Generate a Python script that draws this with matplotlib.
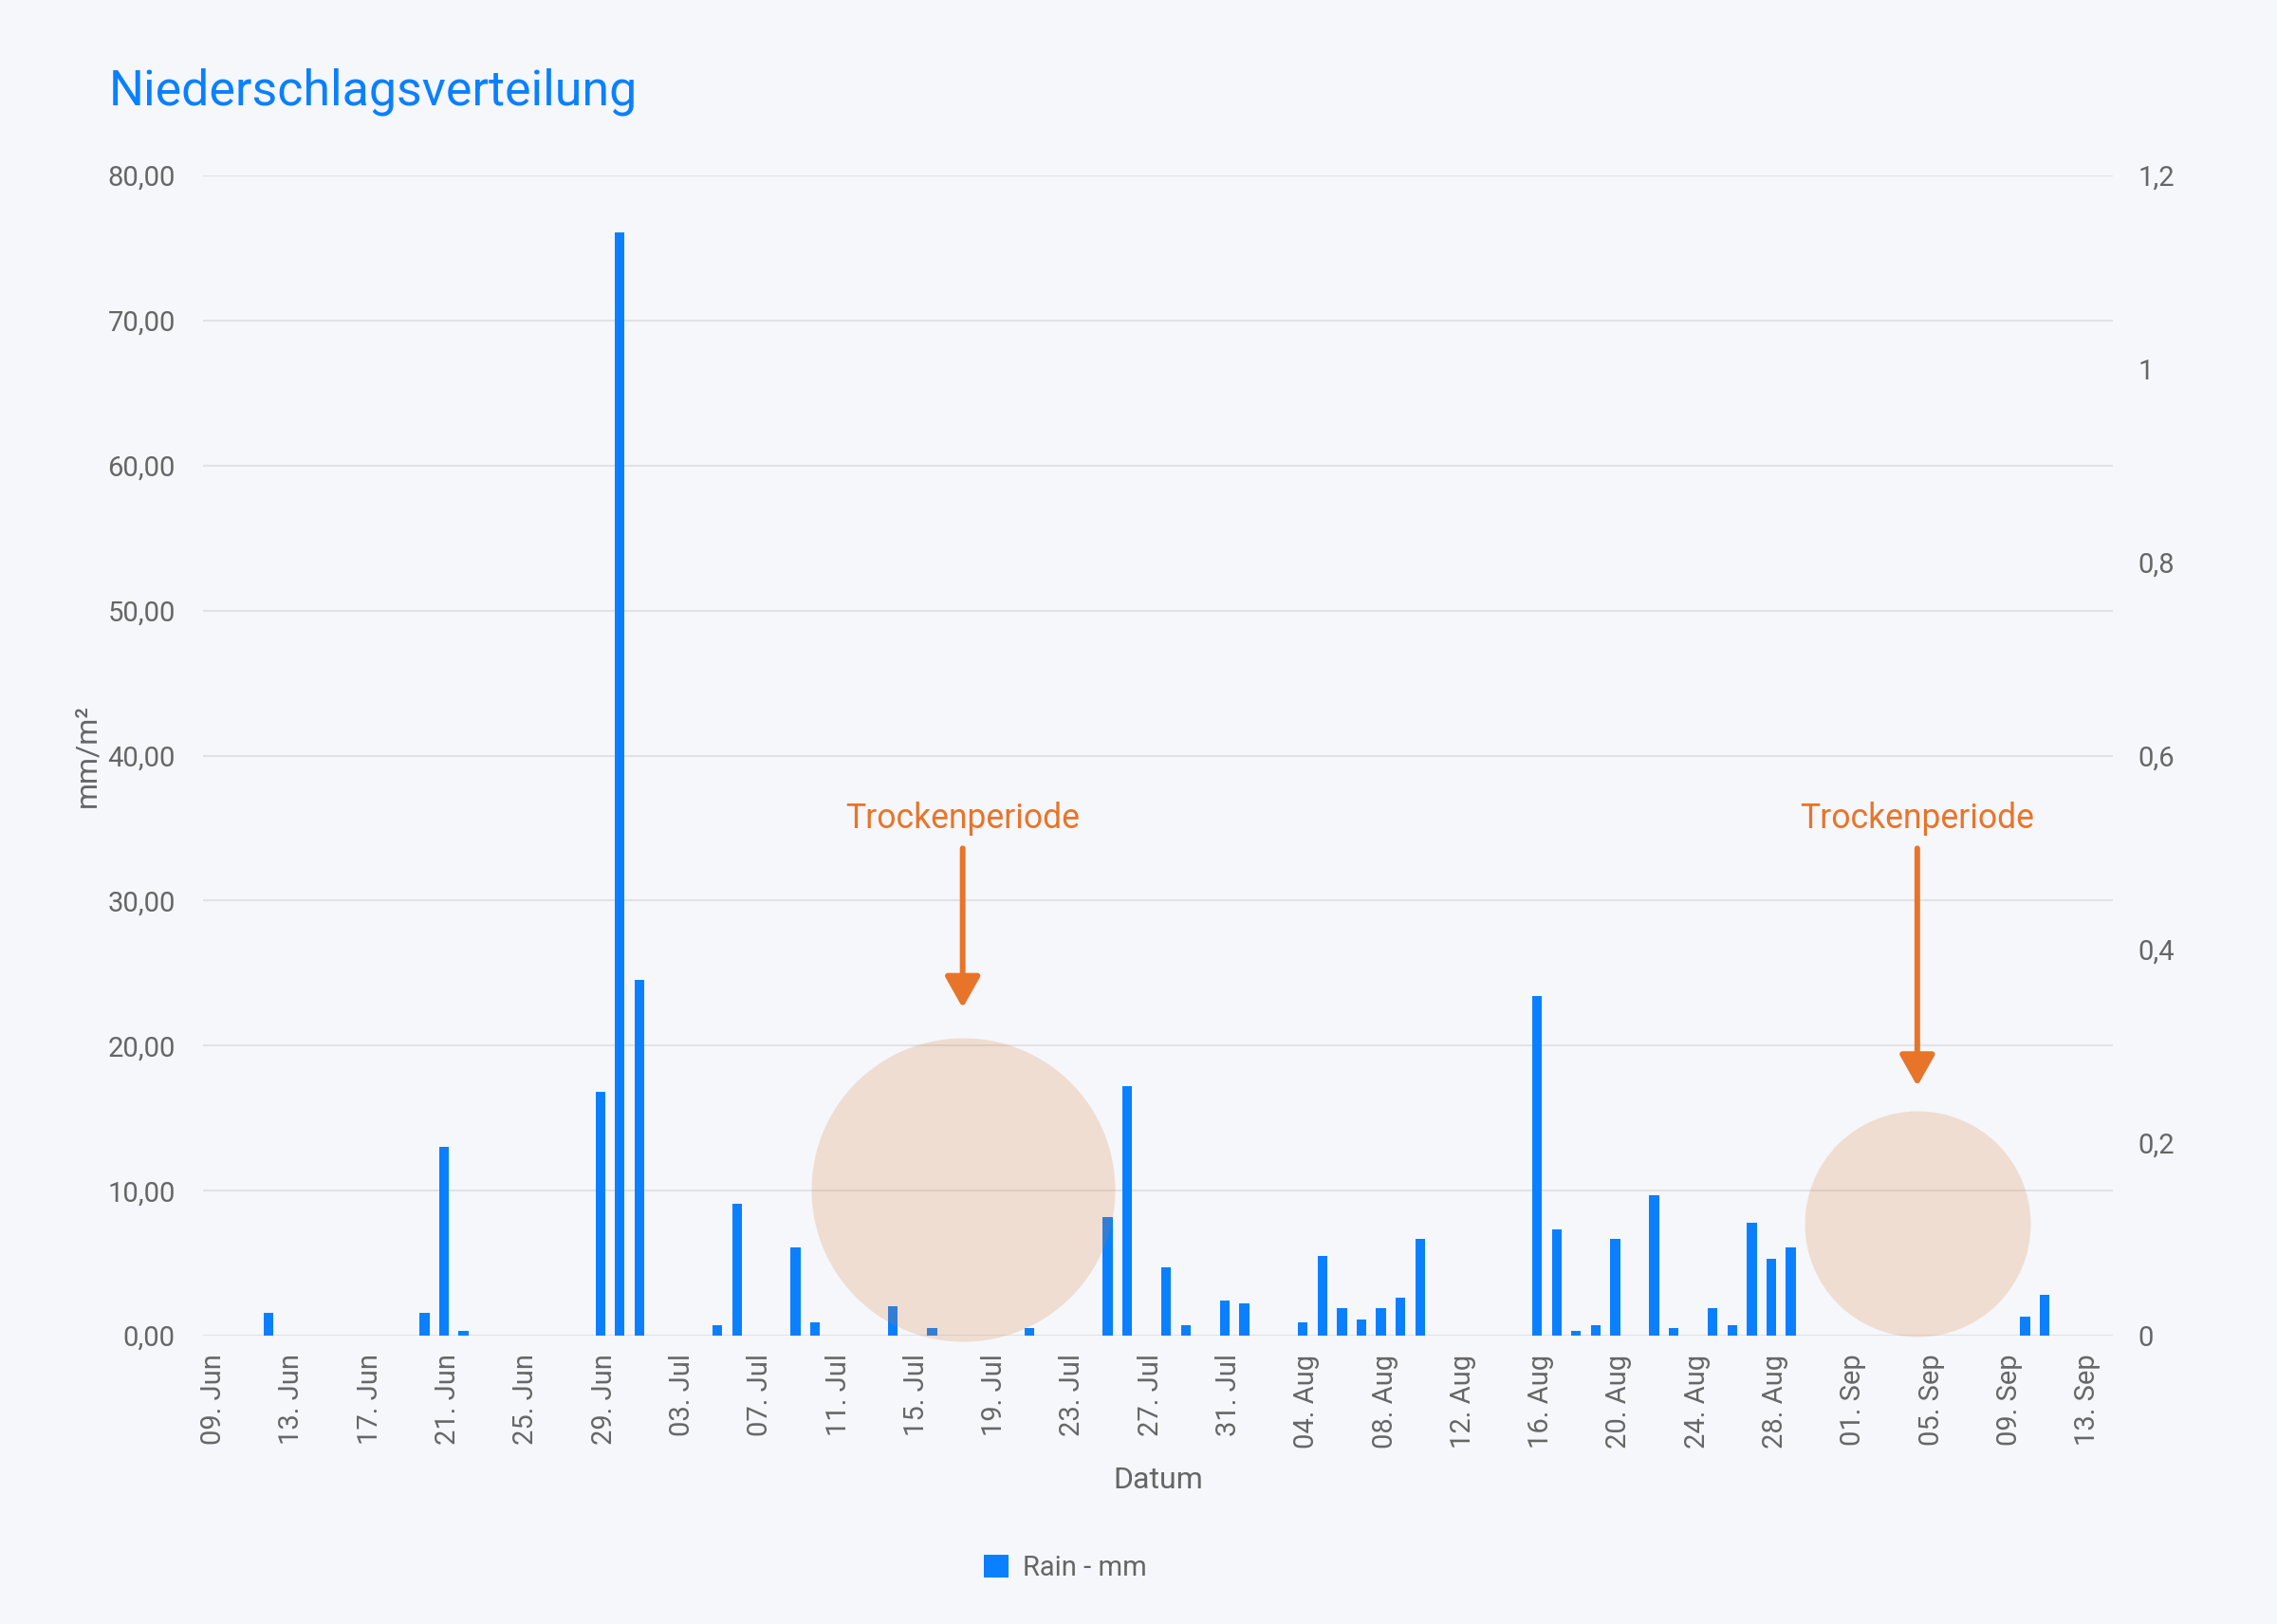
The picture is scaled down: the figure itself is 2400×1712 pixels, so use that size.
import datetime as dt

import matplotlib
matplotlib.use("Agg")
import matplotlib.pyplot as plt
import matplotlib.dates as md
import matplotlib.transforms as mtrans
from matplotlib.patches import Patch
from matplotlib.ticker import FixedLocator, FuncFormatter

plt.rcParams['font.family'] = ['Roboto', 'DejaVu Sans']

# daily rain (mm/m²), only days with rain
rain_dates = [
    '2020-06-12', '2020-06-20', '2020-06-21', '2020-06-22', '2020-06-29',
    '2020-06-30', '2020-07-01', '2020-07-05', '2020-07-06', '2020-07-09',
    '2020-07-10', '2020-07-14', '2020-07-16', '2020-07-21', '2020-07-25',
    '2020-07-26', '2020-07-28', '2020-07-29', '2020-07-31', '2020-08-01',
    '2020-08-04', '2020-08-05', '2020-08-06', '2020-08-07', '2020-08-08',
    '2020-08-09', '2020-08-10', '2020-08-16', '2020-08-17', '2020-08-18',
    '2020-08-19', '2020-08-20', '2020-08-22', '2020-08-23', '2020-08-25',
    '2020-08-26', '2020-08-27', '2020-08-28', '2020-08-29', '2020-09-10',
    '2020-09-11',
]
rain_mm = [
    1.6, 1.6, 13.0, 0.3, 16.8,
    76.1, 24.5, 0.7, 9.1, 6.1,
    0.9, 2.0, 0.5, 0.5, 8.2,
    17.2, 4.7, 0.7, 2.4, 2.2,
    0.9, 5.5, 1.9, 1.1, 1.9,
    2.6, 6.7, 23.4, 7.3, 0.3,
    0.7, 6.7, 9.7, 0.5, 1.9,
    0.7, 7.8, 5.3, 6.1, 1.3,
    2.8,
]

# x axis: first tick and every 4 days
first_tick = dt.datetime(2020, 6, 9)
tick_step_days = 4
n_ticks = 25

left_ticks = [0, 10, 20, 30, 40, 50, 60, 70, 80]
right_ticks = [0, 0.2, 0.4, 0.6, 0.8, 1.0, 1.2]

# dry periods marked on the chart
dry_label = 'Trockenperiode'
dry_centers = ['2020-07-17 13:40', '2020-09-04 11:30']
dry_levels = [10.1, 7.7]
dry_radius_px = [160, 119]
dry_arrow_tip = [22.6, 17.2]
arrow_top = 33.6
label_level = 35.0

BG = '#f5f7fb'
BLUE = '#0a80ff'
ORANGE = '#e8742a'
GREY = '#666666'
GRID = '#e1e2e6'

W, H, DPI = 2400, 1712, 100
fig = plt.figure(figsize=(W / DPI, H / DPI), dpi=DPI, facecolor=BG)
ax = fig.add_axes([214 / W, 304 / H, 2013 / W, 1223 / H], facecolor=BG)

dates = [dt.datetime.fromisoformat(d) for d in rain_dates]
ax.bar(dates, rain_mm, width=0.5, color=BLUE, zorder=2)

ax.set_ylim(0, 80)
ax.set_xlim(first_tick - dt.timedelta(days=0.35), first_tick + dt.timedelta(days=97.5))
ax.yaxis.set_major_locator(FixedLocator(left_ticks))
ax.yaxis.set_major_formatter(FuncFormatter(lambda v, p: f'{v:.2f}'.replace('.', ',')))
ax.grid(axis='y', color=GRID, linewidth=1.5, zorder=0)
for s in ax.spines.values():
    s.set_visible(False)

ticks = [first_tick + dt.timedelta(days=tick_step_days * i) for i in range(n_ticks)]
ax.set_xticks(ticks)
ax.xaxis.set_major_formatter(md.DateFormatter('%d. %b'))
ax.tick_params(axis='x', length=0, pad=14, labelsize=21, labelcolor=GREY, labelrotation=90)
ax.tick_params(axis='y', length=0, pad=21, labelsize=21, labelcolor=GREY)
# labels sit a few pixels right of the bar centres in the original
shift = mtrans.ScaledTranslation(4 / DPI, 0, fig.dpi_scale_trans)
for lab in ax.get_xticklabels():
    lab.set_va('top')
    lab.set_ha('center')
    lab.set_transform(lab.get_transform() + shift)

ax2 = ax.twinx()
ax2.set_ylim(0, 1.2)
ax2.yaxis.set_major_locator(FixedLocator(right_ticks))
ax2.yaxis.set_major_formatter(FuncFormatter(lambda v, p: f'{v:g}'.replace('.', ',')))
ax2.tick_params(axis='y', length=0, pad=19, labelsize=21, labelcolor=GREY)
for s in ax2.spines.values():
    s.set_visible(False)

ax.set_ylabel('mm/m²', fontsize=23, color=GREY)
ax.yaxis.set_label_coords(-0.0606, 0.5)
ax.yaxis.label.set_va('center')
ax.set_xlabel('Datum', fontsize=23, color=GREY)
ax.xaxis.set_label_coords(0.5, -0.1245)
ax.xaxis.label.set_va('center')

# dry period markers
for c, lvl, r, tip in zip(dry_centers, dry_levels, dry_radius_px, dry_arrow_tip):
    cx = dt.datetime.fromisoformat(c)
    d_pt = 2 * r * 72 / DPI
    ax.scatter([cx], [lvl], s=d_pt ** 2, color='#d9772f', alpha=0.2,
               linewidths=0, zorder=3, clip_on=False)
    ax.annotate('', xy=(cx, tip), xytext=(cx, arrow_top),
                arrowprops=dict(arrowstyle='-|>,head_length=20,head_width=11.3',
                                mutation_scale=1, lw=4.3, color=ORANGE,
                                shrinkA=0, shrinkB=0), zorder=4)
    ax.text(cx, label_level, dry_label, ha='center', va='baseline',
            fontsize=25.6, color=ORANGE, zorder=4)

fig.text(115 / W, 1 - 111 / H, 'Niederschlagsverteilung', fontsize=37.4,
         color=BLUE, ha='left', va='baseline')

fig.legend(handles=[Patch(facecolor=BLUE, label='Rain - mm')], loc='center',
           bbox_to_anchor=(1123 / W, 59 / H), frameon=False, fontsize=21,
           labelcolor=GREY, handlelength=0.9, handleheight=0.9, handletextpad=0.5)

fig.savefig('out.png', dpi=DPI, facecolor=BG)
